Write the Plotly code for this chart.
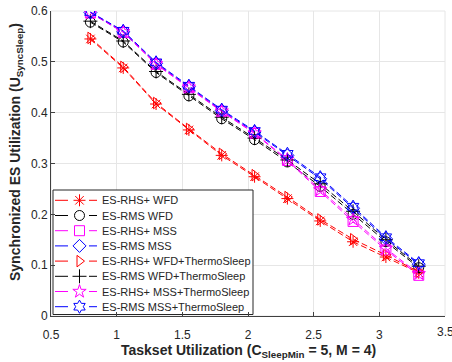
import plotly.graph_objects as go

x_util = [0.8, 1.05, 1.3, 1.55, 1.8, 2.05, 2.3, 2.55, 2.8, 3.05, 3.3]
rhs_wfd = [0.545, 0.488, 0.417, 0.366, 0.316, 0.274, 0.231, 0.187, 0.146, 0.116, 0.085]
rms_wfd = [0.578, 0.539, 0.479, 0.433, 0.388, 0.347, 0.303, 0.255, 0.200, 0.146, 0.095]
rhs_mss = [0.596, 0.558, 0.495, 0.449, 0.402, 0.359, 0.306, 0.245, 0.186, 0.130, 0.080]
rms_mss = [0.597, 0.559, 0.497, 0.451, 0.404, 0.362, 0.316, 0.270, 0.212, 0.152, 0.102]
rhs_wfd_ts = [0.547, 0.490, 0.419, 0.368, 0.319, 0.277, 0.234, 0.190, 0.151, 0.120, 0.087]
rms_wfd_ts = [0.580, 0.541, 0.481, 0.436, 0.391, 0.350, 0.307, 0.260, 0.206, 0.150, 0.098]
rhs_mss_ts = [0.597, 0.559, 0.496, 0.450, 0.403, 0.360, 0.308, 0.248, 0.190, 0.133, 0.083]
rms_mss_ts = [0.598, 0.561, 0.499, 0.453, 0.406, 0.364, 0.319, 0.273, 0.215, 0.155, 0.104]

x_ticks = [0.5, 1, 1.5, 2, 2.5, 3, 3.5]
x_ticklabels = ["0.5", "1", "1.5", "2", "2.5", "3", "3.5"]
y_ticks = [0, 0.1, 0.2, 0.3, 0.4, 0.5, 0.6]
y_ticklabels = ["0", "0.1", "0.2", "0.3", "0.4", "0.5", "0.6"]

series = [
    ("ES-RHS+ WFD", rhs_wfd, "#ff0000", "asterisk-open"),
    ("ES-RMS WFD", rms_wfd, "#000000", "circle-open"),
    ("ES-RHS+ MSS", rhs_mss, "#ff00ff", "square-open"),
    ("ES-RMS MSS", rms_mss, "#0000ff", "diamond-open"),
    ("ES-RHS+ WFD+ThermoSleep", rhs_wfd_ts, "#ff0000", "triangle-right-open"),
    ("ES-RMS WFD+ThermoSleep", rms_wfd_ts, "#000000", "cross-thin-open"),
    ("ES-RHS+ MSS+ThermoSleep", rhs_mss_ts, "#ff00ff", "star-open"),
    ("ES-RMS MSS+ThermoSleep", rms_mss_ts, "#0000ff", "hexagram-open"),
]

W, H = 452, 362
ML, MR, MT, MB = 51, 7, 11, 46
PW, PH = W - ML - MR, H - MT - MB


def px(xp):
    return (xp - ML) / PW


def py(yp):
    return (H - MB - yp) / PH


fig = go.Figure()
for name, ys, col, sym in series:
    fig.add_trace(go.Scatter(
        x=x_util, y=ys, name=name, mode="lines+markers", showlegend=False,
        line=dict(color=col, width=1, dash="6px,3px"),
        marker=dict(symbol=sym, size=10, color=col, line=dict(color=col, width=1)),
    ))

# custom compact legend (MATLAB style) drawn on an overlay axis in paper units
bx0, bx1, by0, by1 = px(53), px(253), py(190), py(314.5)
fig.add_trace(go.Scatter(
    x=[bx0, bx1, bx1, bx0, bx0], y=[by0, by0, by1, by1, by0],
    xaxis="x2", yaxis="y2", mode="lines", fill="toself", fillcolor="white",
    line=dict(color="#262626", width=1), showlegend=False, hoverinfo="skip",
))
row0, rowgap = 200.3, 15.2
annotations = []
for i, (name, ys, col, sym) in enumerate(series):
    yy = py(row0 + i * rowgap)
    for xa, xb in [(55, 68), (89, 97)]:
        fig.add_trace(go.Scatter(
            x=[px(xa), px(xb)], y=[yy, yy], xaxis="x2", yaxis="y2", mode="lines",
            line=dict(color=col, width=1), showlegend=False, hoverinfo="skip",
        ))
    fig.add_trace(go.Scatter(
        x=[px(79.5)], y=[yy], xaxis="x2", yaxis="y2", mode="markers",
        marker=dict(symbol=sym, size=10, color=col, line=dict(color=col, width=1)),
        showlegend=False, hoverinfo="skip",
    ))
    annotations.append(dict(
        x=px(100), y=yy, xref="paper", yref="paper", text=name, showarrow=False,
        xanchor="left", yanchor="middle", font=dict(size=11, color="#262626"),
    ))

# the last x tick label sits on the right edge; plotly hides it, so draw it as text
axis_ticktext = x_ticklabels[:-1] + [""]
annotations.append(dict(
    x=x_ticks[-1], y=py(332), xref="x", yref="paper", text=x_ticklabels[-1],
    showarrow=False, xanchor="center", yanchor="middle",
    font=dict(size=12, color="#262626"),
))

annotations.append(dict(
    x=px(248), y=py(340), xref="paper", yref="paper", showarrow=False,
    xanchor="center", yanchor="top",
    text="<b>Taskset Utilization (C<sub>SleepMin</sub> = 5, M = 4)</b>",
    font=dict(size=14, color="#262626"),
))
annotations.append(dict(
    x=px(16), y=py(152), xref="paper", yref="paper", showarrow=False,
    xanchor="center", yanchor="middle", textangle=-90,
    text="<b>Synchronized ES Utilization (U<sub>SyncSleep</sub>)</b>",
    font=dict(size=14, color="#262626"),
))

font_family = "Liberation Sans, Arial, Helvetica, sans-serif"
fig.update_layout(
    width=W, height=H,
    margin=dict(l=ML, r=MR, t=MT, b=MB, autoexpand=False),
    paper_bgcolor="white", plot_bgcolor="white",
    font=dict(family=font_family, size=12, color="#262626"),
    showlegend=False,
    annotations=annotations,
    xaxis=dict(
        range=[0.5, 3.5], tickvals=x_ticks, ticktext=axis_ticktext,
        showgrid=True, gridcolor="#e6e6e6", gridwidth=1,
        showline=True, linecolor="#404040", linewidth=1,
        ticks="inside", ticklen=4, tickcolor="#404040",
        zeroline=False, mirror=False, automargin=False,
        ticklabelstandoff=8, ticklabeloverflow="allow",
    ),
    yaxis=dict(
        range=[0, 0.6], tickvals=y_ticks, ticktext=y_ticklabels,
        showgrid=True, gridcolor="#e6e6e6", gridwidth=1,
        showline=True, linecolor="#404040", linewidth=1,
        ticks="inside", ticklen=4, tickcolor="#404040",
        zeroline=False, mirror=False, automargin=False,
        ticklabeloverflow="allow",
    ),
    xaxis2=dict(overlaying="x", range=[0, 1], visible=False, fixedrange=True),
    yaxis2=dict(overlaying="y", range=[0, 1], visible=False, fixedrange=True),
)
fig.add_shape(type="rect", xref="paper", yref="paper", x0=0, y0=0, x1=1, y1=1,
              line=dict(color="#e6e6e6", width=1), layer="below")

fig.write_html("out.html", config={"displayModeBar": False},
               post_script="document.body.style.margin='0px';")
